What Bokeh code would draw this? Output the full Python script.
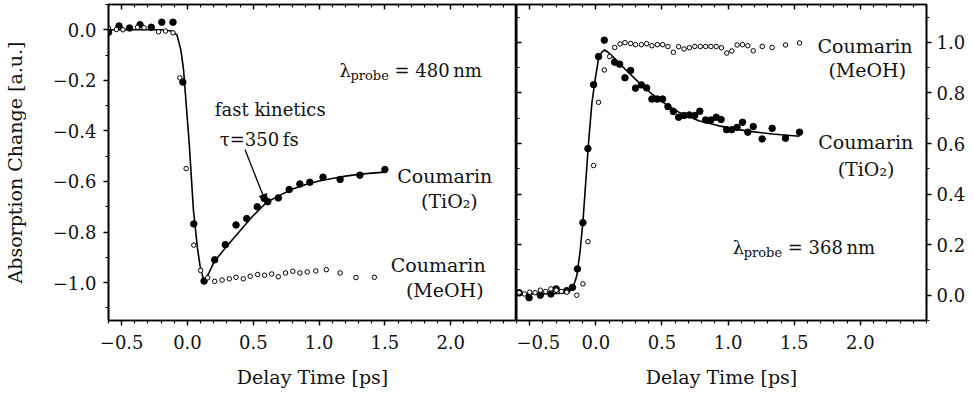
from bokeh.plotting import figure
from bokeh.layouts import row
from bokeh.models import (FixedTicker, LinearAxis, Label, Arrow, NormalHead,
                          CustomJSTickFormatter, ColumnDataSource)
from bokeh.embed import file_html
from bokeh.resources import INLINE

FONT = "DejaVu Serif"

# ---------------- data ----------------
x_ticks = [-0.5, 0.0, 0.5, 1.0, 1.5, 2.0]
left_y_ticks = [-1.0, -0.8, -0.6, -0.4, -0.2, 0.0]
right_y_ticks = [0.0, 0.2, 0.4, 0.6, 0.8, 1.0]

# left panel (probe 480 nm)
left_tio2_t = [-0.60, -0.52, -0.44, -0.36, -0.275, -0.195, -0.11, -0.035, 0.048, 0.126,
               0.207, 0.288, 0.369, 0.45, 0.53, 0.583, 0.61, 0.69, 0.773, 0.854, 0.93,
               1.03, 1.16, 1.31, 1.50]
left_tio2_v = [-0.01, 0.015, 0.007, 0.02, 0.01, 0.03, 0.03, -0.207, -0.768, -0.994,
               -0.91, -0.85, -0.772, -0.747, -0.70, -0.667, -0.68, -0.665, -0.632, -0.61,
               -0.603, -0.583, -0.592, -0.575, -0.553]
left_meoh_t = [-0.60, -0.54, -0.49, -0.38, -0.33, -0.22, -0.167, -0.11, -0.058, -0.01,
               0.048, 0.10, 0.154, 0.207, 0.263, 0.318, 0.369, 0.424, 0.477, 0.533, 0.586,
               0.64, 0.69, 0.745, 0.80, 0.854, 0.91, 0.975, 1.055, 1.16, 1.28, 1.42]
left_meoh_v = [0.007, 0.001, 0.0, 0.01, 0.008, -0.008, -0.005, -0.012, -0.19, -0.549,
               -0.852, -0.952, -0.981, -0.995, -0.99, -0.985, -0.979, -0.985, -0.975,
               -0.968, -0.971, -0.966, -0.977, -0.962, -0.955, -0.962, -0.958, -0.954,
               -0.949, -0.962, -0.98, -0.979]
left_fit_t = [-0.6, -0.4, -0.2, -0.12, -0.08, -0.05, -0.03, 0.0, 0.013, 0.045, 0.075,
              0.096, 0.126, 0.16, 0.2, 0.3, 0.4, 0.5, 0.6, 0.7, 0.8, 0.9, 1.0, 1.1, 1.2,
              1.3, 1.4, 1.5]
left_fit_v = [0.0, 0.0, 0.0, -0.005, -0.02, -0.08, -0.157, -0.36, -0.447, -0.711, -0.86,
              -0.935, -0.997, -0.965, -0.92, -0.855, -0.795, -0.735, -0.683, -0.655,
              -0.63, -0.612, -0.598, -0.588, -0.579, -0.572, -0.567, -0.563]

# right panel (probe 368 nm)
right_tio2_t = [-0.58, -0.505, -0.42, -0.34, -0.30, -0.22, -0.177, -0.139, -0.098, -0.06,
                -0.017, 0.02, 0.064, 0.142, 0.18, 0.22, 0.263, 0.30, 0.344, 0.384, 0.424,
                0.465, 0.505, 0.545, 0.586, 0.626, 0.667, 0.707, 0.748, 0.786, 0.83, 0.87,
                0.91, 0.947, 0.988, 1.028, 1.068, 1.109, 1.149, 1.19, 1.257, 1.333, 1.434,
                1.54]
right_tio2_v = [0.01, -0.01, 0.0, 0.005, 0.025, 0.018, 0.031, 0.104, 0.287, 0.58, 0.833,
                0.944, 1.009, 0.922, 0.914, 0.86, 0.889, 0.819, 0.832, 0.82, 0.776, 0.776,
                0.776, 0.746, 0.727, 0.704, 0.711, 0.713, 0.711, 0.728, 0.693, 0.693,
                0.704, 0.695, 0.655, 0.655, 0.664, 0.684, 0.645, 0.667, 0.618, 0.66,
                0.621, 0.645]
right_meoh_t = [-0.58, -0.54, -0.50, -0.46, -0.42, -0.38, -0.34, -0.30, -0.26, -0.22,
                -0.144, -0.098, -0.06, -0.017, 0.02, 0.064, 0.104, 0.142, 0.183, 0.22,
                0.263, 0.30, 0.344, 0.384, 0.424, 0.465, 0.505, 0.545, 0.586, 0.626,
                0.667, 0.707, 0.748, 0.79, 0.83, 0.87, 0.91, 0.95, 0.99, 1.028, 1.068,
                1.109, 1.149, 1.19, 1.258, 1.333, 1.434, 1.54]
right_meoh_v = [0.01, 0.005, 0.012, 0.01, 0.02, 0.015, 0.025, 0.02, 0.015, 0.012, 0.0,
                0.045, 0.212, 0.513, 0.763, 0.891, 0.944, 0.98, 0.994, 0.999, 0.996,
                0.991, 0.991, 0.995, 0.987, 0.991, 0.991, 0.984, 0.961, 0.983, 0.974,
                0.979, 0.984, 0.984, 0.984, 0.984, 0.984, 0.979, 0.958, 0.966, 0.99,
                0.991, 0.987, 0.967, 0.984, 0.98, 0.99, 0.998]
right_fit_t = [-0.6, -0.4, -0.25, -0.2, -0.17, -0.144, -0.12, -0.098, -0.055, -0.03,
               -0.005, 0.02, 0.045, 0.066, 0.09, 0.12, 0.22, 0.324, 0.424, 0.525, 0.627,
               0.778, 0.93, 1.08, 1.18, 1.333, 1.54]
right_fit_v = [0.005, 0.005, 0.008, 0.015, 0.035, 0.077, 0.17, 0.289, 0.605, 0.76, 0.855,
               0.934, 0.962, 0.97, 0.962, 0.948, 0.895, 0.842, 0.796, 0.757, 0.724, 0.69,
               0.67, 0.655, 0.647, 0.638, 0.629]

x_minor = [round(-0.6 + 0.1 * i, 2) for i in range(32)]
left_y_minor = [round(-1.1 + 0.1 * i, 2) for i in range(13)]
right_y_minor = [round(-0.1 + 0.1 * i, 2) for i in range(13)]

fmt = CustomJSTickFormatter(code="return tick.toFixed(1).replace('-', '\\u2212');")
blank = CustomJSTickFormatter(code="return '';")


def style_axis(ax, ticks, minor, labels=True):
    ax.ticker = FixedTicker(ticks=ticks, minor_ticks=minor)
    ax.axis_line_width = 1.6
    ax.axis_line_color = "black"
    ax.major_tick_line_width = 1.4
    ax.minor_tick_line_width = 1.1
    ax.major_tick_line_color = "black"
    ax.minor_tick_line_color = "black"
    ax.major_tick_out = 5
    ax.major_tick_in = 0
    ax.minor_tick_out = 3
    ax.minor_tick_in = 0
    if labels:
        ax.formatter = fmt
        ax.major_label_text_font = FONT
        ax.major_label_text_font_size = "18px"
        ax.major_label_text_color = "#111111"
        ax.axis_label_text_font = FONT
        ax.axis_label_text_font_size = "19px"
        ax.axis_label_text_font_style = "normal"
        ax.axis_label_text_color = "#111111"
    else:
        ax.formatter = blank
        ax.major_label_text_font_size = "0px"
        ax.major_label_standoff = 0


def inner_axis(ax, ticks, minor):
    style_axis(ax, ticks, minor, labels=False)
    ax.major_tick_out = 0
    ax.minor_tick_out = 0
    ax.major_tick_in = 5
    ax.minor_tick_in = 3


def make_fig(yr, left_border, right_border, yloc):
    p = figure(frame_width=408 if yloc == "left" else 410, frame_height=316,
               x_range=(-0.6, 2.5), y_range=yr, output_backend="svg",
               toolbar_location=None, y_axis_location=yloc,
               min_border_left=left_border, min_border_right=right_border,
               min_border_top=4, min_border_bottom=68)
    p.xgrid.visible = False
    p.ygrid.visible = False
    p.outline_line_color = "black"
    p.outline_line_width = 1.6
    p.background_fill_color = "white"
    p.border_fill_color = "white"
    return p


# ---------------- left panel ----------------
p1 = make_fig((-1.15, 0.1), 101, 0, "left")
style_axis(p1.xaxis[0], x_ticks, x_minor)
p1.xaxis[0].axis_label = "Delay Time [ps]"
p1.xaxis[0].major_label_standoff = 9
p1.xaxis[0].axis_label_standoff = 14
style_axis(p1.yaxis[0], left_y_ticks, left_y_minor)
p1.yaxis[0].axis_label = "Absorption Change [a.u.]"
p1.yaxis[0].major_label_standoff = 7
p1.yaxis[0].axis_label_standoff = 24
top1 = LinearAxis()
inner_axis(top1, x_ticks, x_minor)
p1.add_layout(top1, "above")

p1.line(left_fit_t, left_fit_v, line_color="black", line_width=1.6)
p1.scatter(left_tio2_t, left_tio2_v, size=6.5, fill_color="black", line_color="black")
p1.scatter(left_meoh_t, left_meoh_v, size=4.5, fill_color="white", line_color="black",
           line_width=1)


def lab(p, txt, x, y, size="19px", align="center", xo=0, yo=0):
    p.add_layout(Label(x=x, y=y, text=txt, text_font=FONT, text_font_size=size,
                       text_align=align, text_baseline="middle", text_color="#111111",
                       x_offset=xo, y_offset=yo))


lab(p1, "Coumarin", 1.955, -0.578)
lab(p1, "(TiO\u2082)", 1.99, -0.677)
lab(p1, "Coumarin", 1.905, -0.929)
lab(p1, "(MeOH)", 1.955, -1.029)
lab(p1, "fast kinetics", 0.629, -0.315, size="18px")
lab(p1, "\u03c4=350\u2009fs", 0.545, -0.434, size="18px")
lab(p1, "\u03bb", 1.155, -0.163, size="18px", align="left")
lab(p1, "probe", 1.155, -0.163, size="13px", align="left", xo=11, yo=-5)
lab(p1, "= 480\u2009nm", 1.155, -0.163, size="18px", align="left", xo=55)
p1.add_layout(Arrow(end=NormalHead(size=8, fill_color="black", line_color="black"),
                    x_start=0.437, y_start=-0.474, x_end=0.596, y_end=-0.683,
                    line_color="black", line_width=1.3))

# ---------------- right panel ----------------
p2 = make_fig((-0.1, 1.15), 0, 39, "right")
style_axis(p2.xaxis[0], x_ticks, x_minor)
p2.xaxis[0].axis_label = "Delay Time [ps]"
p2.xaxis[0].major_label_standoff = 9
p2.xaxis[0].axis_label_standoff = 14
style_axis(p2.yaxis[0], right_y_ticks, right_y_minor)
p2.yaxis[0].major_label_standoff = 5
top2 = LinearAxis()
inner_axis(top2, x_ticks, x_minor)
p2.add_layout(top2, "above")
left2 = LinearAxis()
inner_axis(left2, right_y_ticks, right_y_minor)
p2.add_layout(left2, "left")

p2.line(right_fit_t, right_fit_v, line_color="black", line_width=1.6)
p2.scatter(right_tio2_t, right_tio2_v, size=6.5, fill_color="black", line_color="black")
p2.scatter(right_meoh_t, right_meoh_v, size=4.5, fill_color="white", line_color="black",
           line_width=1)

lab(p2, "Coumarin", 2.035, 0.987)
lab(p2, "(MeOH)", 2.052, 0.889)
lab(p2, "Coumarin", 2.041, 0.605)
lab(p2, "(TiO\u2082)", 2.043, 0.499)
lab(p2, "\u03bb", 1.035, 0.189, size="18px", align="left")
lab(p2, "probe", 1.035, 0.189, size="13px", align="left", xo=11, yo=-5)
lab(p2, "= 368\u2009nm", 1.035, 0.189, size="18px", align="left", xo=55)

layout = row(p1, p2)
open("out.html", "w").write(file_html(layout, INLINE))
